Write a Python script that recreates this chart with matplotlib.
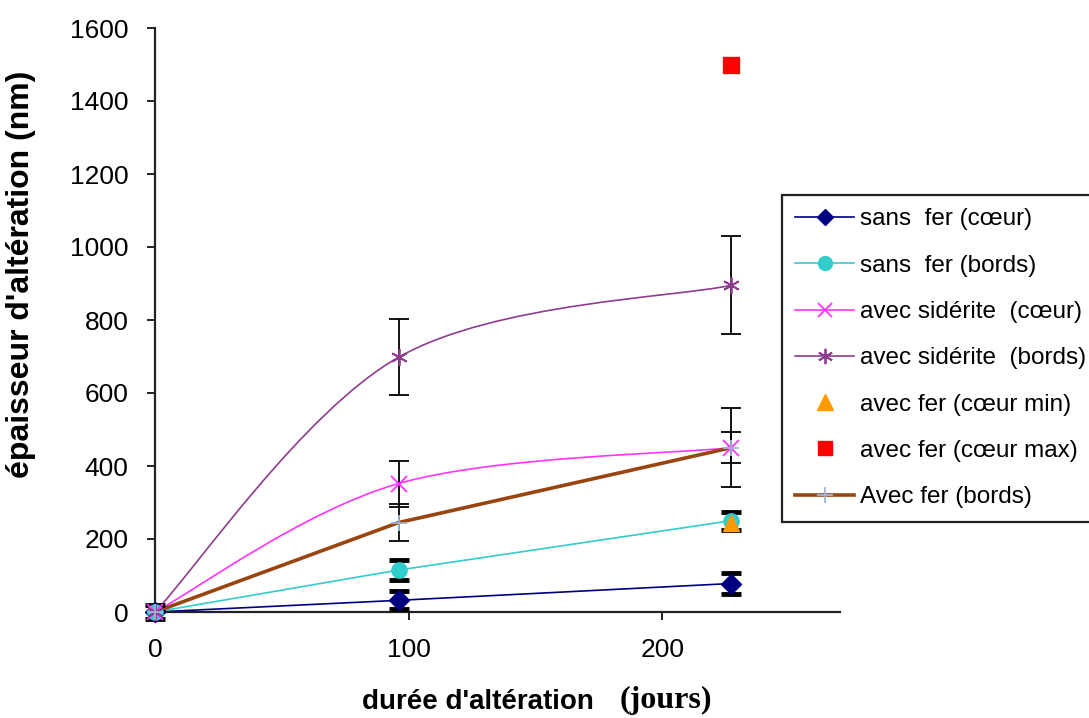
import numpy as np
import matplotlib
matplotlib.use("Agg")
import matplotlib.pyplot as plt
from matplotlib.path import Path
from matplotlib.patches import PathPatch
from matplotlib.lines import Line2D

# données (jours, nm)
days = [0, 96, 227]

sf_coeur = [0, 32, 78]
sf_coeur_err = [20, 25, 28]

sf_bords = [0, 115, 250]
sf_bords_err = [0, 27, 25]

sid_coeur = [0, 352, 450]
sid_coeur_err = [0, 63, 108]

sid_bords = [0, 698, 895]
sid_bords_err = [0, 104, 134]

fer_min_day = [227]
fer_coeur_min = [245]
fer_max_day = [227]
fer_coeur_max = [1500]

fer_bords = [0, 245, 450]
fer_bords_err = [0, 50, 43]

XMAX, YMAX = 270, 1600

fig = plt.figure(figsize=(10.89, 7.18), dpi=100)
ax = fig.add_axes([155 / 1089, 1 - 612 / 718, 685 / 1089, 584 / 718])
ax.set_xlim(0, XMAX)
ax.set_ylim(0, YMAX)


def excel_smooth(ax, x, y, color, lw):
    """courbe lissée façon Excel (Bézier cubique, tension 1/6)"""
    sx = 685 / XMAX
    sy = 584 / YMAX
    P = np.column_stack([np.asarray(x, float) * sx, np.asarray(y, float) * sy])
    n = len(P)
    verts = [P[0]]
    codes = [Path.MOVETO]
    for i in range(n - 1):
        p_prev = P[i - 1] if i > 0 else P[i]
        p_next = P[i + 2] if i + 2 < n else P[i + 1]
        c1 = P[i] + (P[i + 1] - p_prev) / 6
        c2 = P[i + 1] - (p_next - P[i]) / 6
        verts += [c1, c2, P[i + 1]]
        codes += [Path.CURVE4] * 3
    verts = np.array(verts) / [sx, sy]
    ax.add_patch(PathPatch(Path(verts, codes), fill=False, edgecolor=color,
                           lw=lw, clip_on=False, zorder=2))


c_navy = '#000080'
c_turq = '#33CCCC'
c_mag = '#FF33FF'
c_purp = '#8E3C8E'
c_brown = '#99450F'

# lignes
ax.plot(days, sf_coeur, color=c_navy, lw=1.2, zorder=2, clip_on=False)
ax.plot(days, sf_bords, color=c_turq, lw=1.2, zorder=2, clip_on=False)
excel_smooth(ax, days, sid_coeur, c_mag, 1.2)
excel_smooth(ax, days, sid_bords, c_purp, 1.2)
ax.plot(days, fer_bords, color=c_brown, lw=2.6, zorder=2, clip_on=False)

# barres d'erreur
ax.errorbar(days, sf_coeur, yerr=sf_coeur_err, fmt='none', ecolor='black',
            elinewidth=1.8, capsize=7, capthick=3.5, zorder=3, clip_on=False)
ax.errorbar(days, sf_bords, yerr=sf_bords_err, fmt='none', ecolor='black',
            elinewidth=1.8, capsize=7, capthick=3.5, zorder=3)
for vals, errs in [(sid_coeur, sid_coeur_err), (sid_bords, sid_bords_err),
                   (fer_bords, fer_bords_err)]:
    ax.errorbar(days, vals, yerr=errs, fmt='none', ecolor='black',
                elinewidth=1.3, capsize=7, capthick=1.3, zorder=3)

# marqueurs
ax.plot(days, sf_coeur, 'D', color=c_navy, ms=10, zorder=4, clip_on=False)
ax.plot(days, sf_bords, 'o', color=c_turq, ms=11, zorder=4, clip_on=False)
ax.plot(days, sid_coeur, 'x', color=c_mag, ms=11, mew=1.3, zorder=4, clip_on=False)
ax.plot(days, sid_bords, marker=(6, 2, 0), ls='none', color=c_purp, ms=12,
        mew=1.3, zorder=4, clip_on=False)
ax.plot(fer_min_day, fer_coeur_min, '^', color='#FF9900', ms=12, zorder=5)
ax.plot(fer_max_day, fer_coeur_max, 's', color='#FF0000', ms=11, zorder=5)
ax.plot(days, fer_bords, '+', color='#9FB4D8', ms=12, mew=1.3, zorder=4, clip_on=False)

# axes
for side in ['top', 'right']:
    ax.spines[side].set_visible(False)
for side in ['left', 'bottom']:
    ax.spines[side].set_linewidth(1.6)
    ax.spines[side].set_color('#222222')
ax.set_xticks([0, 100, 200])
ax.set_yticks(range(0, 1601, 200))
ax.tick_params(axis='both', direction='out', length=6, width=1.4,
               color='#222222', labelsize=19, pad=13)
for lab in ax.get_xticklabels() + ax.get_yticklabels():
    lab.set_family('Liberation Sans')

fig.text(21 / 1089, 1 - 274 / 718, "épaisseur d'altération (nm)", rotation=90,
         ha='center', va='center', fontsize=23, fontweight='bold',
         family='Liberation Sans')
fig.text(478 / 1089, 1 - 702 / 718, "durée d'altération", ha='center', va='center',
         fontsize=20, fontweight='bold', family='Liberation Sans')
fig.text(666 / 1089, 1 - 700 / 718, "(jours)", ha='center', va='center',
         fontsize=23, fontweight='bold', family='Liberation Serif')

# légende
handles = [
    Line2D([], [], color=c_navy, lw=1.2, marker='D', ms=8),
    Line2D([], [], color=c_turq, lw=1.2, marker='o', ms=10),
    Line2D([], [], color=c_mag, lw=1.2, marker='x', ms=10, mew=1.3),
    Line2D([], [], color=c_purp, lw=1.2, marker=(6, 2, 0), ms=11, mew=1.3),
    Line2D([], [], ls='none', marker='^', color='#FF9900', ms=11),
    Line2D([], [], ls='none', marker='s', color='#FF0000', ms=10),
    Line2D([], [], color=c_brown, lw=2.6, marker='+', ms=12, mew=1.3,
           markeredgecolor='#9FB4D8'),
]
labels = ['sans  fer (cœur)', 'sans  fer (bords)', 'avec sidérite  (cœur)',
          'avec sidérite  (bords)', 'avec fer (cœur min)', 'avec fer (cœur max)',
          'Avec fer (bords)']
leg = fig.legend(handles, labels, loc='upper left',
                 bbox_to_anchor=(782 / 1089, 1 - 195 / 718),
                 bbox_transform=fig.transFigure, frameon=True, fancybox=False,
                 edgecolor='#222222', framealpha=1, borderaxespad=0,
                 prop={'family': 'Liberation Sans', 'size': 17.5},
                 handlelength=2.4, handletextpad=0.25, labelspacing=1.0,
                 borderpad=0.55)
leg.get_frame().set_linewidth(1.6)

fig.savefig('out.png', dpi=100)
